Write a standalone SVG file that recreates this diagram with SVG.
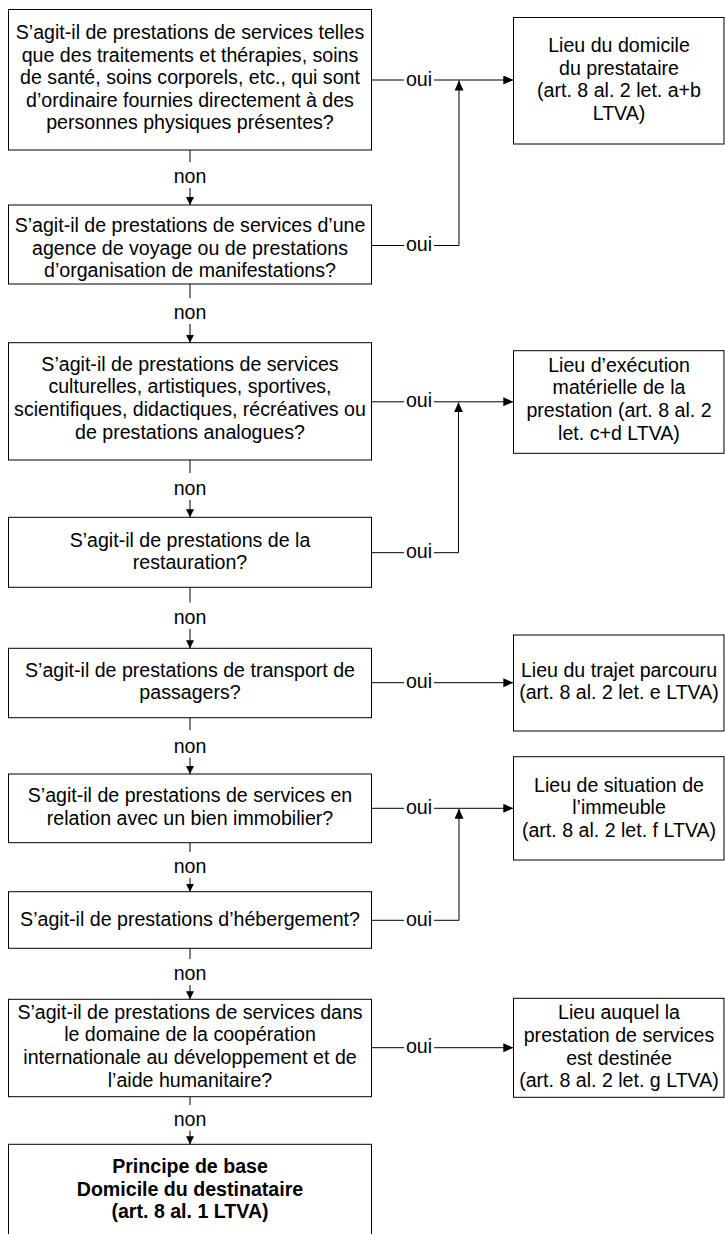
<svg xmlns="http://www.w3.org/2000/svg" width="725" height="1234" viewBox="0 0 725 1234">
  <style>
    .box { fill: #ffffff; stroke: #000000; stroke-width: 1; }
    .t { font-family: "Liberation Sans", Arial, sans-serif; font-size: 19.6px; fill: #000000; text-anchor: middle; }
    .b { font-weight: bold; }
    .lbl { font-family: "Liberation Sans", Arial, sans-serif; font-size: 19.6px; fill: #000000; text-anchor: middle; }
    .edge { fill: none; stroke: #000000; stroke-width: 1; }
  </style>
  <defs>
    <marker id="arrowBig" markerUnits="userSpaceOnUse" markerWidth="11" markerHeight="10" refX="10" refY="4.5" orient="auto">
      <path d="M0,0 L10,4.5 L0,9 z" fill="#000000"/>
    </marker>
    <marker id="arrowSmall" markerUnits="userSpaceOnUse" markerWidth="9" markerHeight="9" refX="8" refY="4" orient="auto">
      <path d="M0,0 L8,4 L0,8 z" fill="#000000"/>
    </marker>
  </defs>

  <rect width="725" height="1234" fill="#ffffff"/>

  <!-- connectors -->
  <g id="connectors">
    <!-- "non" path down the question column -->
    <path class="edge" d="M190,150 V162"/>
    <path class="edge" d="M190,188 V205" marker-end="url(#arrowSmall)"/>
    <text class="lbl" x="190" y="182.7">non</text>

    <path class="edge" d="M190,284 V298"/>
    <path class="edge" d="M190,324 V342.7" marker-end="url(#arrowSmall)"/>
    <text class="lbl" x="190" y="319.3">non</text>

    <path class="edge" d="M190,460 V473"/>
    <path class="edge" d="M190,500 V517.3" marker-end="url(#arrowSmall)"/>
    <text class="lbl" x="190" y="495">non</text>

    <path class="edge" d="M190,587.3 V602.5"/>
    <path class="edge" d="M190,629 V648.3" marker-end="url(#arrowSmall)"/>
    <text class="lbl" x="190" y="624">non</text>

    <path class="edge" d="M190,717.7 V730"/>
    <path class="edge" d="M190,757.5 V774" marker-end="url(#arrowSmall)"/>
    <text class="lbl" x="190" y="752.7">non</text>

    <path class="edge" d="M190,842.7 V852"/>
    <path class="edge" d="M190,878 V891.7" marker-end="url(#arrowSmall)"/>
    <text class="lbl" x="190" y="873.3">non</text>

    <path class="edge" d="M190,948.3 V959"/>
    <path class="edge" d="M190,985 V999.3" marker-end="url(#arrowSmall)"/>
    <text class="lbl" x="190" y="980">non</text>

    <path class="edge" d="M190,1096.7 V1105"/>
    <path class="edge" d="M190,1130.5 V1144.3" marker-end="url(#arrowSmall)"/>
    <text class="lbl" x="190" y="1125.7">non</text>

    <!-- "oui" branches to the right-hand results -->
    <path class="edge" d="M371.7,80 H404"/>
    <path class="edge" d="M434,80 H513.3" marker-end="url(#arrowBig)"/>
    <text class="lbl" x="419" y="85.5">oui</text>

    <path class="edge" d="M371.7,245.5 H404"/>
    <path class="edge" d="M434,245.5 H459 V80.5" marker-end="url(#arrowBig)"/>
    <text class="lbl" x="419" y="251">oui</text>

    <path class="edge" d="M371.7,401.8 H404"/>
    <path class="edge" d="M434,401.8 H513.3" marker-end="url(#arrowBig)"/>
    <text class="lbl" x="419" y="407.3">oui</text>

    <path class="edge" d="M371.7,552.7 H404"/>
    <path class="edge" d="M434,552.7 H458.5 V402.3" marker-end="url(#arrowBig)"/>
    <text class="lbl" x="419" y="558.2">oui</text>

    <path class="edge" d="M371.7,682.7 H404"/>
    <path class="edge" d="M434,682.7 H513.3" marker-end="url(#arrowBig)"/>
    <text class="lbl" x="419" y="688.2">oui</text>

    <path class="edge" d="M371.7,808.3 H404"/>
    <path class="edge" d="M434,808.3 H513.3" marker-end="url(#arrowBig)"/>
    <text class="lbl" x="419" y="813.8">oui</text>

    <path class="edge" d="M371.7,920.3 H404"/>
    <path class="edge" d="M434,920.3 H459 V808.8" marker-end="url(#arrowBig)"/>
    <text class="lbl" x="419" y="926">oui</text>

    <path class="edge" d="M371.7,1047.7 H404"/>
    <path class="edge" d="M434,1047.7 H513.3" marker-end="url(#arrowBig)"/>
    <text class="lbl" x="419" y="1053.2">oui</text>
  </g>

  <!-- question column -->
  <g id="q1">
    <rect class="box" x="8.5" y="9.5" width="363" height="140.5"/>
    <text class="t" x="190" y="39">S’agit-il de prestations de services telles</text>
    <text class="t" x="190" y="61.6">que des traitements et thérapies, soins</text>
    <text class="t" x="190" y="84.2">de santé, soins corporels, etc., qui sont</text>
    <text class="t" x="190" y="106.8">d’ordinaire fournies directement à des</text>
    <text class="t" x="190" y="129.4">personnes physiques présentes?</text>
  </g>
  <g id="q2">
    <rect class="box" x="8.5" y="205" width="363" height="79"/>
    <text class="t" x="190" y="232.3">S’agit-il de prestations de services d’une</text>
    <text class="t" x="190" y="254.9">agence de voyage ou de prestations</text>
    <text class="t" x="190" y="277.3">d’organisation de manifestations?</text>
  </g>
  <g id="q3">
    <rect class="box" x="8.5" y="342.7" width="363" height="117.3"/>
    <text class="t" x="190" y="370.7">S’agit-il de prestations de services</text>
    <text class="t" x="190" y="393.3">culturelles, artistiques, sportives,</text>
    <text class="t" x="190" y="415.9">scientifiques, didactiques, récréatives ou</text>
    <text class="t" x="190" y="438.5">de prestations analogues?</text>
  </g>
  <g id="q4">
    <rect class="box" x="8.5" y="517.3" width="363" height="70"/>
    <text class="t" x="190" y="546.7">S’agit-il de prestations de la</text>
    <text class="t" x="190" y="569.3">restauration?</text>
  </g>
  <g id="q5">
    <rect class="box" x="8.5" y="648.3" width="363" height="69.4"/>
    <text class="t" x="190" y="676.7">S’agit-il de prestations de transport de</text>
    <text class="t" x="190" y="699.3">passagers?</text>
  </g>
  <g id="q6">
    <rect class="box" x="8.5" y="774" width="363" height="68.7"/>
    <text class="t" x="190" y="802.3">S’agit-il de prestations de services en</text>
    <text class="t" x="190" y="824.9">relation avec un bien immobilier?</text>
  </g>
  <g id="q7">
    <rect class="box" x="8.5" y="891.7" width="363" height="56.6"/>
    <text class="t" x="190" y="925.7">S’agit-il de prestations d’hébergement?</text>
  </g>
  <g id="q8">
    <rect class="box" x="8.5" y="999.3" width="363" height="97.4"/>
    <text class="t" x="190" y="1018.5">S’agit-il de prestations de services dans</text>
    <text class="t" x="190" y="1041.3">le domaine de la coopération</text>
    <text class="t" x="190" y="1064.1">internationale au développement et de</text>
    <text class="t" x="190" y="1086.9">l’aide humanitaire?</text>
  </g>
  <g id="base">
    <rect class="box" x="8.5" y="1144.3" width="363" height="100"/>
    <text class="t b" x="190" y="1173.3">Principe de base</text>
    <text class="t b" x="190" y="1195.8">Domicile du destinataire</text>
    <text class="t b" x="190" y="1218.3">(art. 8 al. 1 LTVA)</text>
  </g>

  <!-- result column -->
  <g id="r1">
    <rect class="box" x="513.5" y="17.5" width="210.5" height="126.5"/>
    <text class="t" x="619" y="52">Lieu du domicile</text>
    <text class="t" x="619" y="74.6">du prestataire</text>
    <text class="t" x="619" y="97.2">(art. 8 al. 2 let. a+b</text>
    <text class="t" x="619" y="119.8">LTVA)</text>
  </g>
  <g id="r2">
    <rect class="box" x="513.5" y="350.7" width="210.5" height="102.6"/>
    <text class="t" x="619" y="371.7">Lieu d’exécution</text>
    <text class="t" x="619" y="394.3">matérielle de la</text>
    <text class="t" x="619" y="416.9">prestation (art. 8 al. 2</text>
    <text class="t" x="619" y="439.5">let. c+d LTVA)</text>
  </g>
  <g id="r3">
    <rect class="box" x="513.5" y="635" width="210.5" height="96"/>
    <text class="t" x="619" y="676.7">Lieu du trajet parcouru</text>
    <text class="t" x="619" y="699.3">(art. 8 al. 2 let. e LTVA)</text>
  </g>
  <g id="r4">
    <rect class="box" x="513.5" y="756.7" width="210.5" height="103.3"/>
    <text class="t" x="619" y="791.7">Lieu de situation de</text>
    <text class="t" x="619" y="814.3">l’immeuble</text>
    <text class="t" x="619" y="836.9">(art. 8 al. 2 let. f LTVA)</text>
  </g>
  <g id="r5">
    <rect class="box" x="513.5" y="998.3" width="210.5" height="99"/>
    <text class="t" x="619" y="1019.3">Lieu auquel la</text>
    <text class="t" x="619" y="1041.9">prestation de services</text>
    <text class="t" x="619" y="1064.5">est destinée</text>
    <text class="t" x="619" y="1087.1">(art. 8 al. 2 let. g LTVA)</text>
  </g>
</svg>
